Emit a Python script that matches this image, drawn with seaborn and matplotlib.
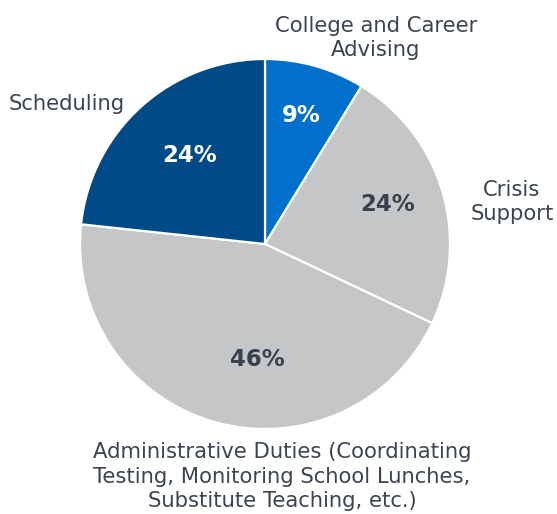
import matplotlib
matplotlib.use("Agg")
import matplotlib.pyplot as plt
import seaborn as sns

sns.set_theme(style="white")
plt.rcParams["font.family"] = ["DejaVu Sans"]

# Share of counselor time by activity (clockwise from 12 o'clock)
categories = [
    "College and Career\nAdvising",
    "Crisis\nSupport",
    "Administrative Duties (Coordinating\nTesting, Monitoring School Lunches,\nSubstitute Teaching, etc.)",
    "Scheduling",
]
values = [9, 24, 46, 24]
pct_labels = [f"{v}%" for v in values]

colors = ["#0070CC", "#C4C6C8", "#C4C6C8", "#004B87"]
pct_colors = ["white", "#38424D", "#38424D", "white"]
text_color = "#3B444F"

# label placement in axes data units (pie radius = 1)
pct_pos = [(0.195, 0.695), (0.665, 0.211), (-0.043, -0.627), (-0.405, 0.476)]
cat_pos = [(0.600, 1.114), (1.335, 0.227), (0.092, -1.259), (-1.070, 0.757)]

W, H = 557, 514
fig = plt.figure(figsize=(W / 100, H / 100), dpi=100)
cx, cy, r = 265, 244, 185
ax = fig.add_axes([(cx - r) / W, (H - cy - r) / H, 2 * r / W, 2 * r / H])

wedges, _ = ax.pie(
    values,
    colors=colors,
    startangle=90,
    counterclock=False,
    radius=1,
    wedgeprops=dict(edgecolor="white", linewidth=1.6),
)
ax.set_xlim(-1, 1)
ax.set_ylim(-1, 1)
ax.set_aspect("equal")
ax.axis("off")

for txt, (x, y), c in zip(pct_labels, pct_pos, pct_colors):
    ax.text(x, y, txt, ha="center", va="center", fontsize=16.5,
            fontweight="bold", color=c)

for txt, (x, y) in zip(categories, cat_pos):
    ax.text(x, y, txt, ha="center", va="center", fontsize=15.2,
            color=text_color, linespacing=1.28, clip_on=False)

fig.savefig("out.png", dpi=100)
